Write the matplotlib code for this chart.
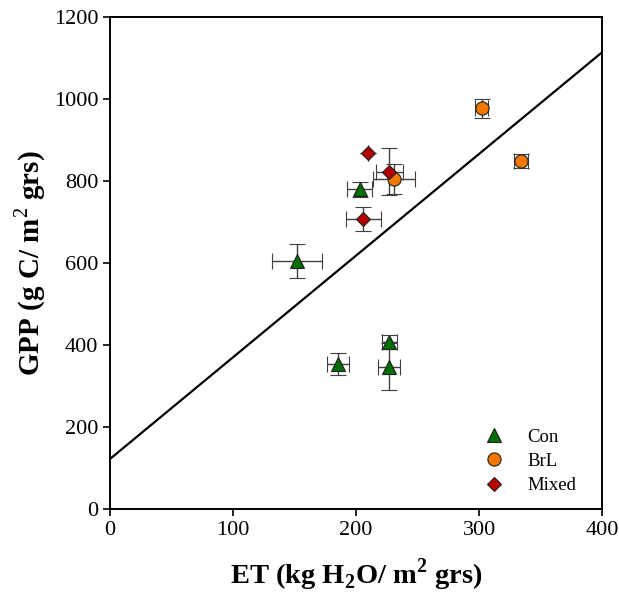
import matplotlib
matplotlib.use("Agg")
import numpy as np
from matplotlib import pyplot as plt

plt.rcParams['font.family'] = ['Liberation Serif', 'DejaVu Serif']
plt.rcParams['mathtext.fontset'] = 'custom'
plt.rcParams['mathtext.rm'] = 'Liberation Serif'
plt.rcParams['mathtext.bf'] = 'Liberation Serif:bold'

# Con stands
con_et = [152, 203, 185, 227, 227]
con_gpp = [605, 780, 354, 408, 347]
con_et_err = [20, 10, 9, 6, 9]
con_gpp_err = [42, 18, 27, 17, 58]

# BrL stands
brl_et = [302, 334, 231]
brl_gpp = [977, 849, 805]
brl_et_err = [5, 6, 17]
brl_gpp_err = [23, 18, 36]

# Mixed stands
mix_et = [210, 227, 206]
mix_gpp = [868, 823, 707]
mix_et_err = [0, 11, 14]
mix_gpp_err = [0, 58, 29]

# fitted GPP-ET line
fit_intercept = 122
fit_slope = 2.48

fig = plt.figure(figsize=(6.19, 5.96), dpi=100)
ax = fig.add_axes([0.1777, 0.146, 0.795, 0.8255])

xs = np.array([0, 400])
ax.plot(xs, fit_intercept + fit_slope * xs, color='black', lw=1.6, zorder=1)

err_kw = dict(ls='none', ecolor='#404040', elinewidth=1.0, capsize=5.5, capthick=1.0,
              markeredgecolor='#202020', markeredgewidth=0.8, zorder=3)
ax.errorbar(con_et, con_gpp, xerr=con_et_err, yerr=con_gpp_err, fmt='^',
            color='#006e00', ms=10, label='Con', **err_kw)
ax.errorbar(brl_et, brl_gpp, xerr=brl_et_err, yerr=brl_gpp_err, fmt='o',
            color='#f07800', ms=9.5, label='BrL', **err_kw)
ax.errorbar(mix_et, mix_gpp, xerr=mix_et_err, yerr=mix_gpp_err, fmt='D',
            color='#b40000', ms=7.5, label='Mixed', **err_kw)

ax.set_xlim(0, 400)
ax.set_ylim(0, 1200)
ax.set_xticks([0, 100, 200, 300, 400])
ax.set_yticks([0, 200, 400, 600, 800, 1000, 1200])
ax.tick_params(direction='out', length=5, width=1.2, labelsize=16, top=False, right=False)
for s in ax.spines.values():
    s.set_linewidth(1.4)

ax.set_xlabel(r'ET (kg H$_\mathbf{2}$O/ m$^\mathbf{2}$ grs)', fontsize=20.5, fontweight='bold', labelpad=12)
ax.set_ylabel(r'GPP (g C/ m$^2$ grs)', fontsize=21, fontweight='bold', labelpad=4)

handles, labels = ax.get_legend_handles_labels()
handles = [h[0] for h in handles]
ax.legend(handles, labels, loc='lower right', frameon=False, fontsize=13.5,
          handlelength=1.2, handletextpad=1.2, labelspacing=0.38,
          bbox_to_anchor=(0.982, -0.004))

fig.savefig('out.png', dpi=100)
